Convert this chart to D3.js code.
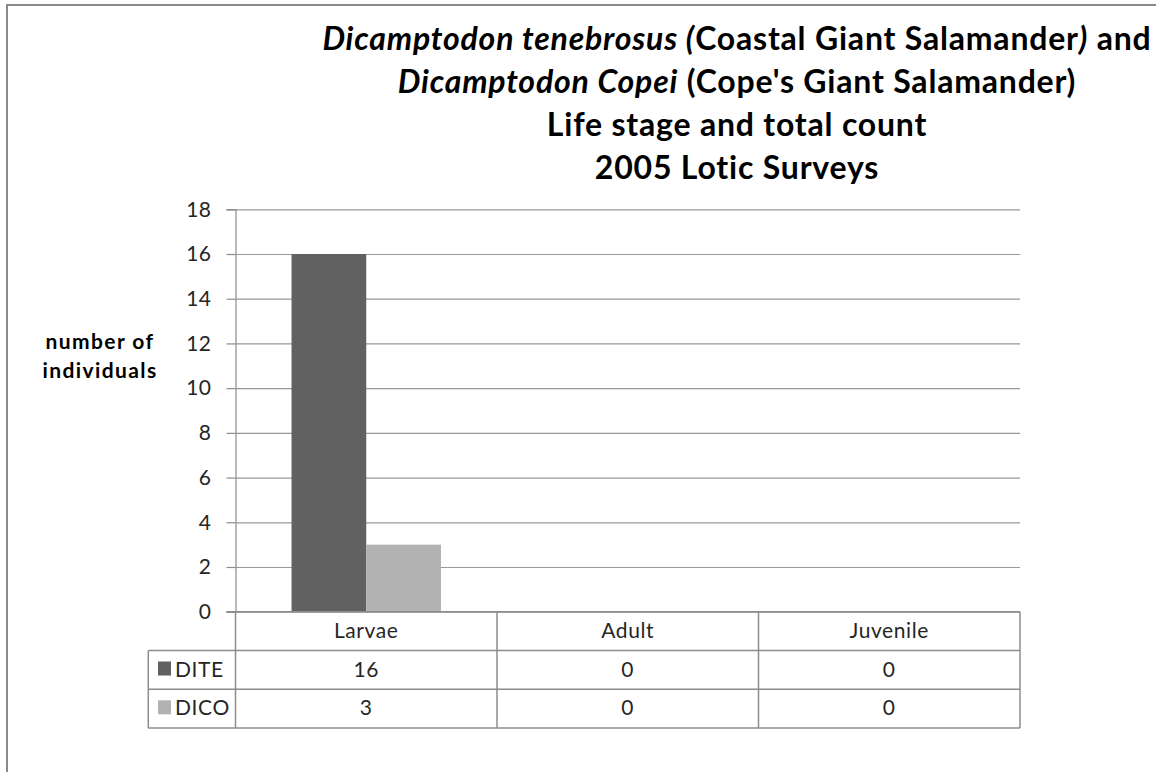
<!DOCTYPE html>
<html>
<head>
<meta charset="utf-8">
<script src="https://cdn.jsdelivr.net/npm/d3@7"></script>
<style>
  body { margin: 0; background: #fff; }
  svg { display: block; font-family: Lato, "Open Sans", sans-serif; }
</style>
</head>
<body>
<svg id="chart" width="1156" height="772"></svg>
<script>
// chart data
var categories = ["Larvae", "Adult", "Juvenile"];
var seriesNames = ["DITE", "DICO"];
var diteValues = [16, 0, 0];
var dicoValues = [3, 0, 0];
var yTickValues = [0, 2, 4, 6, 8, 10, 12, 14, 16, 18];

var seriesColors = { DITE: "#616161", DICO: "#b2b2b2" };
var lineColor = "#8c8c8c";

var svg = d3.select("#chart");

// outer frame (only top and left edges show in the picture)
svg.append("rect")
    .attr("x", 7).attr("y", 5)
    .attr("width", 1170).attr("height", 790)
    .attr("fill", "none")
    .attr("stroke", "#8a8a8a")
    .attr("stroke-width", 2);

// title, four lines, mixed italic
var titleLines = [
  [["Dicamptodon tenebrosus (", true], ["Coastal Giant Salamander", false], [")", true], [" and", false]],
  [["Dicamptodon Copei", true], [" (Cope's Giant Salamander)", false]],
  [["Life stage and total count", false]],
  [["2005 Lotic Surveys", false]]
];
var title = svg.append("text")
    .attr("text-anchor", "middle")
    .attr("font-size", 32)
    .attr("font-weight", "bold")
    .attr("letter-spacing", 0.8)
    .attr("fill", "#000");
titleLines.forEach(function (parts, i) {
  parts.forEach(function (p, j) {
    var t = title.append("tspan")
        .attr("font-style", p[1] ? "italic" : "normal")
        .text(p[0]);
    if (j === 0) t.attr("x", 737).attr("y", 50 + i * 43);
  });
});

// scales
var plotLeft = 235.5, plotRight = 1020, plotTop = 209.3, plotBottom = 611.7;

var y = d3.scaleLinear()
    .domain([0, 18])
    .range([plotBottom, plotTop]);

var x = d3.scaleBand()
    .domain(categories)
    .range([plotLeft, plotRight])
    .padding(0);

var xSeries = d3.scaleBand()
    .domain(seriesNames)
    .range([0, x.bandwidth()])
    .paddingInner(0)
    .paddingOuter(0.75);

// gridlines
var grid = svg.append("g")
    .attr("transform", "translate(" + plotLeft + ",0)")
    .call(d3.axisLeft(y).tickValues(yTickValues).tickSize(-(plotRight - plotLeft)).tickFormat(""));
grid.select(".domain").remove();
grid.selectAll("line").attr("stroke", "#999").attr("stroke-width", 1.2);

// y axis with labels
var yAxis = svg.append("g")
    .attr("transform", "translate(" + plotLeft + ",0)")
    .call(d3.axisLeft(y).tickValues(yTickValues).tickSize(9).tickPadding(15));
yAxis.select(".domain").attr("stroke", lineColor).attr("stroke-width", 1.2);
yAxis.selectAll("line").attr("stroke", lineColor).attr("stroke-width", 1.2);
yAxis.selectAll("text")
    .attr("font-size", 21)
    .attr("letter-spacing", 0.5)
    .attr("fill", "#262626")
    .attr("font-family", "Lato, 'Open Sans', sans-serif");

// y axis title
svg.append("text")
    .attr("text-anchor", "middle")
    .attr("font-size", 21)
    .attr("font-weight", "bold")
    .attr("letter-spacing", 1.4)
    .attr("fill", "#000")
    .selectAll("tspan")
    .data(["number of", "individuals"])
    .enter().append("tspan")
    .attr("x", 100)
    .attr("y", function (d, i) { return 349 + i * 29; })
    .text(function (d) { return d; });

// bars
var barData = [];
categories.forEach(function (c, i) {
  barData.push({ cat: c, series: "DITE", value: diteValues[i] });
  barData.push({ cat: c, series: "DICO", value: dicoValues[i] });
});

svg.append("g")
  .selectAll("rect")
  .data(barData.filter(function (d) { return d.value > 0; }))
  .enter().append("rect")
    .attr("x", function (d) { return x(d.cat) + xSeries(d.series); })
    .attr("y", function (d) { return y(d.value); })
    .attr("width", xSeries.bandwidth())
    .attr("height", function (d) { return y(0) - y(d.value); })
    .attr("fill", function (d) { return seriesColors[d.series]; });

// data table under the axis
var rowH = 38.8;
var legendLeft = 148.3;
var table = svg.append("g");
var rows = [
  { name: "DITE", values: diteValues },
  { name: "DICO", values: dicoValues }
];

// horizontal lines
table.append("line")
    .attr("x1", plotLeft - 9).attr("x2", plotRight)
    .attr("y1", plotBottom).attr("y2", plotBottom);
[1, 2, 3].forEach(function (r) {
  table.append("line")
      .attr("x1", legendLeft).attr("x2", plotRight)
      .attr("y1", plotBottom + r * rowH).attr("y2", plotBottom + r * rowH);
});
// vertical lines
table.append("line")
    .attr("x1", legendLeft).attr("x2", legendLeft)
    .attr("y1", plotBottom + rowH).attr("y2", plotBottom + 3 * rowH);
categories.forEach(function (c) {
  table.append("line")
      .attr("x1", x(c)).attr("x2", x(c))
      .attr("y1", plotBottom).attr("y2", plotBottom + 3 * rowH);
});
table.append("line")
    .attr("x1", plotRight).attr("x2", plotRight)
    .attr("y1", plotBottom).attr("y2", plotBottom + 3 * rowH);
table.selectAll("line").attr("stroke", lineColor).attr("stroke-width", 1.5);

// header
table.selectAll("text.head")
  .data(categories)
  .enter().append("text")
    .attr("class", "head")
    .attr("x", function (d) { return x(d) + x.bandwidth() / 2; })
    .attr("y", plotBottom + 26)
    .attr("text-anchor", "middle")
    .text(function (d) { return d; });

rows.forEach(function (row, r) {
  var rowTop = plotBottom + (r + 1) * rowH;
  table.append("rect")
      .attr("x", 158).attr("y", rowTop + 11)
      .attr("width", 13).attr("height", 14)
      .attr("fill", seriesColors[row.name]);
  table.append("text")
      .attr("x", 175)
      .attr("y", rowTop + 26)
      .text(row.name);
  table.selectAll("text.v" + r)
    .data(row.values)
    .enter().append("text")
      .attr("class", "v" + r)
      .attr("x", function (d, i) { return x(categories[i]) + x.bandwidth() / 2; })
      .attr("y", rowTop + 26)
      .attr("text-anchor", "middle")
      .text(function (d) { return d; });
});
table.selectAll("text").attr("font-size", 21).attr("letter-spacing", 0.6).attr("fill", "#262626");
</script>
</body>
</html>
